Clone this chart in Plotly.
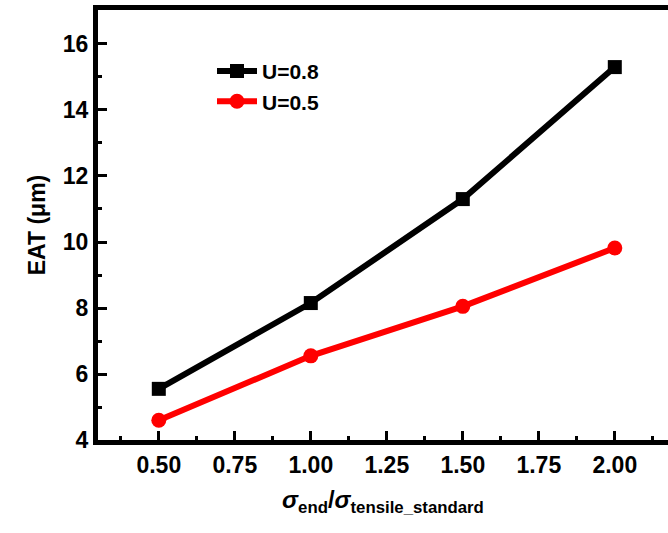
import plotly.graph_objects as go

x_vals = [0.5, 1.0, 1.5, 2.0]
u08 = [5.55, 8.15, 11.3, 15.3]
u05 = [4.6, 6.55, 8.05, 9.82]
x_ticks = [0.5, 0.75, 1.0, 1.25, 1.5, 1.75, 2.0]
x_labels = ["0.50", "0.75", "1.00", "1.25", "1.50", "1.75", "2.00"]
y_ticks = [4, 6, 8, 10, 12, 14, 16]
x_minor = [0.375, 0.625, 0.875, 1.125, 1.375, 1.625, 1.875, 2.125]
y_minor = [5, 7, 9, 11, 13, 15, 17]

FONT = "Liberation Sans"

fig = go.Figure()
fig.add_trace(go.Scatter(x=x_vals, y=u08, mode="lines+markers", name="U=0.8",
                         line=dict(color="black", width=6),
                         marker=dict(symbol="square", size=14, color="black")))
fig.add_trace(go.Scatter(x=x_vals, y=u05, mode="lines+markers", name="U=0.5",
                         line=dict(color="#ff0000", width=6),
                         marker=dict(symbol="circle", size=15, color="#ff0000")))

fig.update_layout(
    width=668, height=533,
    margin=dict(l=98, r=0, t=10, b=93),
    plot_bgcolor="white", paper_bgcolor="white",
    font=dict(family=FONT, color="black"),
    showlegend=True,
    legend=dict(x=0.2, y=0.905, xanchor="left", yanchor="top",
                bgcolor="rgba(0,0,0,0)", font=dict(size=21, family=FONT, weight="bold"),
                tracegroupgap=0, itemwidth=40),
    xaxis=dict(range=[0.3, 2.175], tickvals=x_ticks, ticktext=x_labels,
               ticks="inside", ticklen=9, tickwidth=3, tickcolor="black",
               showline=True, linewidth=5, linecolor="black", mirror=True,
               showgrid=False, zeroline=False,
               tickfont=dict(size=23, family=FONT, weight="bold"),
               minor=dict(tickvals=x_minor,
                          ticks="inside", ticklen=4, tickwidth=3, tickcolor="black", showgrid=False),
               title=dict(text="<i>σ</i><sub>end</sub>/<i>σ</i><sub>tensile_standard</sub>",
                          font=dict(size=24, family=FONT, weight="bold"), standoff=16)),
    yaxis=dict(range=[4, 17.03], tickvals=y_ticks,
               ticks="inside", ticklen=9, tickwidth=3, tickcolor="black",
               showline=True, linewidth=5, linecolor="black", mirror=False,
               showgrid=False, zeroline=False,
               tickfont=dict(size=23, family=FONT, weight="bold"),
               minor=dict(tickvals=y_minor,
                          ticks="inside", ticklen=4, tickwidth=3, tickcolor="black", showgrid=False),
               title=dict(text="EAT (μm)", font=dict(size=23, family=FONT, weight="bold"), standoff=12)),
)

fig.write_html("out.html")
